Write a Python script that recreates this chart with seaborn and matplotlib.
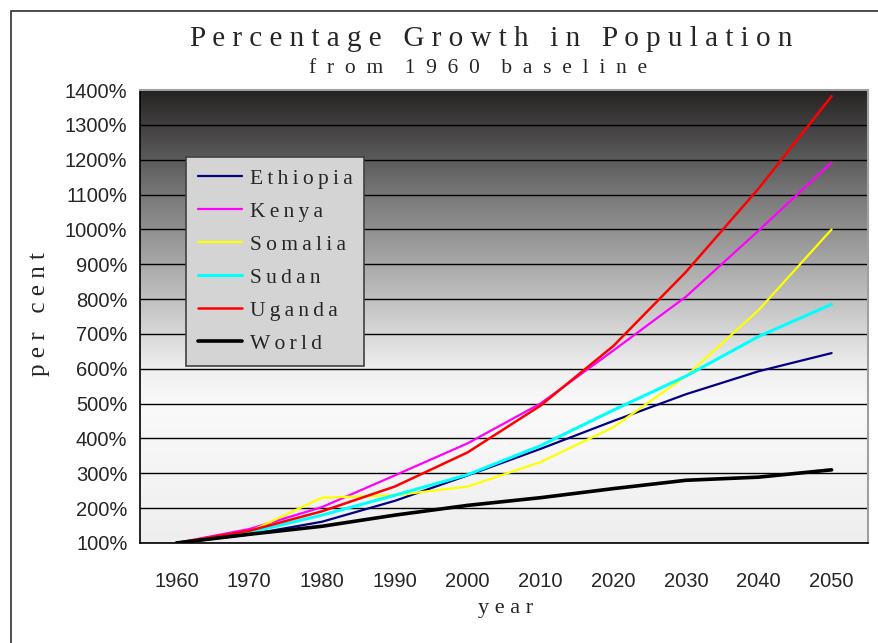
import matplotlib
matplotlib.use("Agg")
import matplotlib.pyplot as plt
import seaborn as sns
import numpy as np
import pandas as pd
from matplotlib.colors import LinearSegmentedColormap
from matplotlib.patches import Rectangle

years = [1960, 1970, 1980, 1990, 2000, 2010, 2020, 2030, 2040, 2050]
ethiopia = [100, 124, 161, 221, 294, 370, 450, 527, 593, 645]
kenya = [100, 140, 203, 294, 386, 500, 652, 807, 997, 1192]
somalia = [100, 132, 230, 237, 262, 332, 432, 579, 769, 1000]
sudan = [100, 130, 180, 237, 296, 379, 481, 579, 693, 785]
uganda = [100, 135, 191, 262, 360, 494, 665, 878, 1118, 1382]
world = [100, 125, 148, 180, 208, 230, 256, 280, 289, 310]

countries = ["Ethiopia", "Kenya", "Somalia", "Sudan", "Uganda", "World"]
colores = ["#000080", "#ff00ff", "#ffff00", "#00ffff", "#ff0000", "#000000"]
grosores = [1.6, 1.6, 1.6, 2.2, 1.8, 2.6]

df = pd.DataFrame({
    "year": years * 6,
    "pct": ethiopia + kenya + somalia + sudan + uganda + world,
    "country": sum([[c] * len(years) for c in countries], []),
})

sns.set_style("white")
serif = ["Liberation Serif", "DejaVu Serif"]
sans = ["Liberation Sans", "DejaVu Sans"]


def espaciar(texto, sep=" ", sep_palabra="   "):
    return sep_palabra.join(sep.join(p) for p in texto.split(" "))


fig = plt.figure(figsize=(8.79, 6.43), dpi=100)
ax = fig.add_axes([140 / 879, 100 / 643, 728 / 879, 453 / 643])

# fondo degradado
cmap = LinearSegmentedColormap.from_list("bg", [
    (0.0, "#eeeeee"), (0.30, "#fafafa"), (0.38, "#f0f0f0"),
    (0.55, "#bdbdbd"), (0.77, "#787878"), (1.0, "#262323")])
grad = np.linspace(0, 1, 256).reshape(-1, 1)
ax.imshow(grad, extent=[1955, 2055, 100, 1400], origin="lower",
          aspect="auto", cmap=cmap, zorder=0)

for c, col, lw in zip(countries, colores, grosores):
    sns.lineplot(data=df[df.country == c], x="year", y="pct", color=col,
                 linewidth=lw, ax=ax, label=espaciar(c, sep="\u2009"), zorder=3)

ax.set_xlim(1955, 2055)
ax.set_ylim(100, 1400)
ax.set_yticks(range(100, 1401, 100))
ax.set_yticklabels([f"{v}%" for v in range(100, 1401, 100)],
                   family=sans, fontsize=14.5)
ax.set_xticks(range(1955, 2056, 10))
ax.set_xticklabels([])
ax.set_xticks(years, minor=True)
ax.set_xticklabels([str(y) for y in years], minor=True, family=sans, fontsize=14.5)
ax.tick_params(axis="x", which="major", length=6, width=1, direction="out", color="black")
ax.tick_params(axis="x", which="minor", length=0, pad=21)
ax.tick_params(axis="y", length=6, width=1, direction="out", color="black", pad=3)
ax.yaxis.grid(True, color="black", linewidth=1)
ax.xaxis.grid(False)
ax.set_xlabel("")
ax.set_ylabel("")

for s in ["left", "bottom"]:
    ax.spines[s].set_color("black")
    ax.spines[s].set_linewidth(1.2)
for s in ["top", "right"]:
    ax.spines[s].set_color("#a0a0a0")
    ax.spines[s].set_linewidth(1.5)

leg = ax.legend(loc="upper left", bbox_to_anchor=(0.063, 0.852),
                prop={"family": serif, "size": 15.5}, frameon=True,
                fancybox=False, handlelength=2.05, labelspacing=0.6,
                borderpad=0.55, handletextpad=0.36, borderaxespad=0)
leg.get_frame().set_facecolor("#d4d4d4")
leg.get_frame().set_edgecolor("#404040")
leg.get_frame().set_linewidth(1.2)
leg.get_frame().set_alpha(1)

fig.text(0.559, 0.940, espaciar("Percentage Growth in Population"),
         ha="center", va="center", family=serif, fontsize=21)
fig.text(0.544, 0.894, espaciar("from 1960 baseline", sep="  ", sep_palabra="    "),
         ha="center", va="center", family=serif, fontsize=15.5)
fig.text(0.575, 0.054, espaciar("year"), ha="center", va="center",
         family=serif, fontsize=16)
fig.text(0.044, 0.512, espaciar("per cent"), ha="center", va="center",
         rotation=90, family=serif, fontsize=18)

fig.add_artist(Rectangle((11 / 879, -0.02), 1.0, (643 - 11) / 643 + 0.02,
                         transform=fig.transFigure, fill=False,
                         edgecolor="#303030", linewidth=1.2))

fig.savefig("out.png", dpi=100)
